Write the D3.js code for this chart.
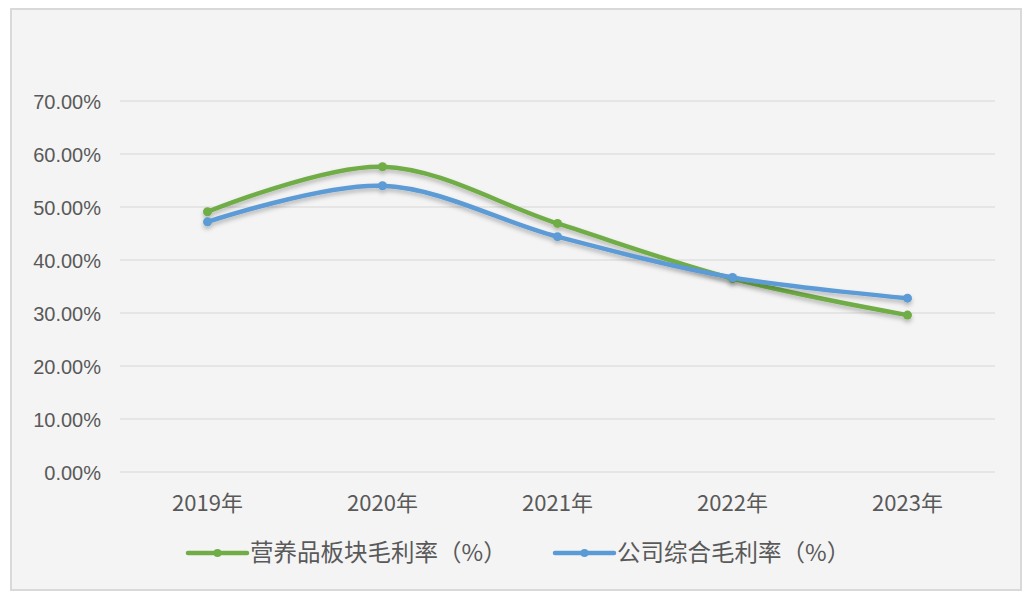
<!DOCTYPE html>
<html><head><meta charset="utf-8">
<script src="https://cdn.jsdelivr.net/npm/d3@7/dist/d3.min.js"></script>
<style>
html,body{margin:0;padding:0;background:#fff;}
svg{display:block;}
</style></head>
<body>
<svg id="c" width="1032" height="600"></svg>
<script>
const categories = ["2019年","2020年","2021年","2022年","2023年"];
const seriesNames = ["营养品板块毛利率（%）","公司综合毛利率（%）"];
const nutritionMargin = [49.1, 57.6, 46.9, 36.5, 29.6];
const companyMargin = [47.2, 54.0, 44.4, 36.7, 32.8];
const yTicks = [0,10,20,30,40,50,60,70];
const colors = ["#70AD47","#5B9BD5"];

const svg = d3.select("#c");
const defs = svg.append("defs");
const f = defs.append("filter").attr("id","sh").attr("x","-10%").attr("y","-50%").attr("width","120%").attr("height","200%");
f.append("feDropShadow").attr("dx",0).attr("dy",3).attr("stdDeviation",2).attr("flood-color","#000").attr("flood-opacity",0.25);

svg.append("rect").attr("x",11).attr("y",9).attr("width",1010).attr("height",581)
  .attr("fill","#F4F4F4").attr("stroke","#D9D9D9").attr("stroke-width",2);

const x = d3.scaleBand().domain(categories).range([120,995]);
const y = d3.scaleLinear().domain([0,70]).range([472,101]);

const g = svg.append("g");
g.selectAll("line.grid").data(yTicks).join("line").attr("class","grid")
  .attr("x1",120).attr("x2",995).attr("y1",d=>y(d)).attr("y2",d=>y(d))
  .attr("stroke","#E0E0E0").attr("stroke-width",1.5);

const yAxis = d3.axisLeft(y).tickValues(yTicks).tickSize(0).tickPadding(0).tickFormat(d=>d3.format(".2f")(d)+"%");
const ya = svg.append("g").attr("transform","translate(101,0)").call(yAxis);
ya.select(".domain").remove();
ya.selectAll("text").attr("font-family","'Liberation Sans',Arial,sans-serif").attr("font-size",20).attr("fill","#595959").attr("dy","0.36em");

const xAxis = d3.axisBottom(x).tickSize(0).tickPadding(0);
const xa = svg.append("g").attr("transform","translate(0,503)").call(xAxis);
xa.select(".domain").remove();
xa.selectAll("text").attr("font-family","'Noto Sans CJK SC',sans-serif").attr("font-size",22).attr("fill","#595959").attr("dy","0.35em");

const series = [nutritionMargin, companyMargin];
const line = d3.line().x((d,i)=>x(categories[i])+x.bandwidth()/2).y(d=>y(d)).curve(d3.curveCatmullRom.alpha(0.5));

series.forEach((s,k)=>{
  const sg = svg.append("g").attr("filter","url(#sh)");
  sg.append("path").datum(s).attr("d",line).attr("fill","none").attr("stroke",colors[k]).attr("stroke-width",4.5).attr("stroke-linecap","round");
  sg.selectAll("circle").data(s).join("circle")
    .attr("cx",(d,i)=>x(categories[i])+x.bandwidth()/2).attr("cy",d=>y(d)).attr("r",4.5).attr("fill",colors[k]);
});

// legend
const legX = [188, 555];
seriesNames.forEach((n,k)=>{
  const lg = svg.append("g").attr("transform",`translate(${legX[k]},553)`);
  lg.append("line").attr("x1",0).attr("x2",59).attr("y1",0).attr("y2",0).attr("stroke",colors[k]).attr("stroke-width",4.5).attr("stroke-linecap","round");
  lg.append("circle").attr("cx",29.5).attr("cy",0).attr("r",4).attr("fill",colors[k]);
  lg.append("text").attr("x",62).attr("y",0).attr("dy","0.35em").text(n)
    .attr("font-family","'Noto Sans CJK SC',sans-serif").attr("font-size",23.5).attr("fill","#595959");
});
</script>
</body></html>
